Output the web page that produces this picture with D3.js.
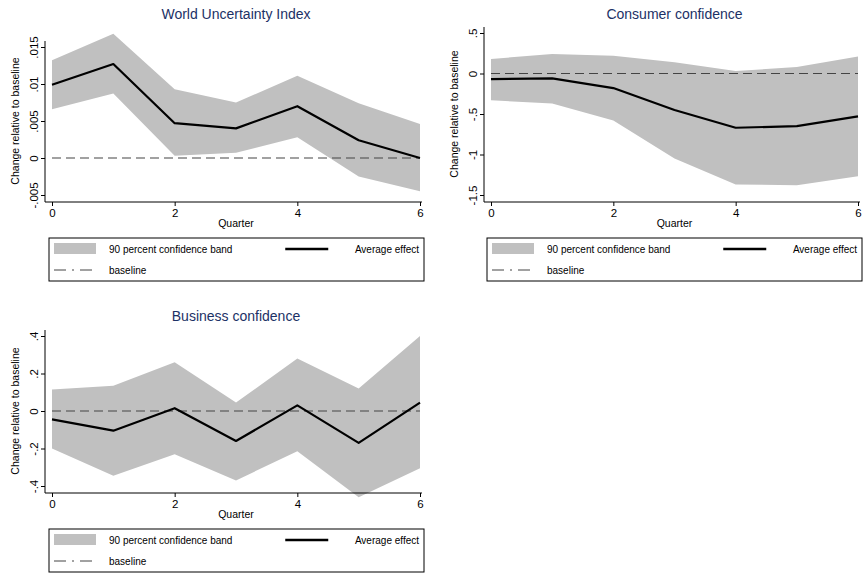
<!DOCTYPE html>
<html><head><meta charset="utf-8">
<script src="https://cdn.jsdelivr.net/npm/d3@7"></script>
<style>body{margin:0;background:#fff;font-family:"Liberation Sans",Arial,sans-serif}</style>
</head><body><svg></svg>
<script>
const quarters = [0, 1, 2, 3, 4, 5, 6];

const wuiMean  = [0.0099, 0.0127, 0.0047, 0.0040, 0.0070, 0.0024, 0.0000];
const wuiUpper = [0.0132, 0.0168, 0.0093, 0.0075, 0.0111, 0.0074, 0.0046];
const wuiLower = [0.0066, 0.0087, 0.0003, 0.0007, 0.0028, -0.0025, -0.0045];
const wuiTicks = [-0.005, 0, 0.005, 0.01, 0.015];
const wuiTickLabels = ['-.005', '0', '.005', '.01', '.015'];

const ccMean  = [-0.07, -0.06, -0.18, -0.45, -0.67, -0.65, -0.53];
const ccUpper = [0.18, 0.24, 0.22, 0.14, 0.03, 0.08, 0.21];
const ccLower = [-0.33, -0.37, -0.58, -1.05, -1.37, -1.38, -1.27];
const ccTicks = [-1.5, -1, -0.5, 0, 0.5];
const ccTickLabels = ['-1.5', '-1', '-.5', '0', '.5'];

const bcMean  = [-0.045, -0.105, 0.015, -0.16, 0.03, -0.17, 0.045];
const bcUpper = [0.115, 0.135, 0.26, 0.045, 0.28, 0.12, 0.40];
const bcLower = [-0.20, -0.345, -0.23, -0.37, -0.215, -0.46, -0.305];
const bcTicks = [-0.4, -0.2, 0, 0.2, 0.4];
const bcTickLabels = ['-.4', '-.2', '0', '.2', '.4'];

const svg = d3.select('svg').attr('width', 864).attr('height', 585);

// one Stata-style panel
function panel(o) {
  const g = svg.append('g');
  const x = d3.scaleLinear().domain([0, 6]).range([o.x0, o.x1]);
  const y = d3.scaleLinear().domain([o.ticks[0], o.ticks[o.ticks.length - 1]]).range([o.yb, o.yt]);

  g.append('text').attr('x', (o.x0 + o.x1) / 2).attr('y', o.title_y)
    .attr('text-anchor', 'middle').attr('font-size', 14).attr('fill', '#1c3166').text(o.title);

  g.append('path').datum(quarters)
    .attr('d', d3.area().x(d => x(d)).y0((d, i) => y(o.lower[i])).y1((d, i) => y(o.upper[i])))
    .attr('fill', '#c0c0c0');

  g.append('line').attr('x1', x(0)).attr('x2', x(6)).attr('y1', y(0)).attr('y2', y(0))
    .attr('stroke', '#444').attr('stroke-width', 1.1).attr('stroke-dasharray', '9,5');

  g.append('path').datum(quarters)
    .attr('d', d3.line().x(d => x(d)).y((d, i) => y(o.mean[i])))
    .attr('fill', 'none').attr('stroke', '#000').attr('stroke-width', 2.2).attr('stroke-linejoin', 'round');

  const yAxis = g.append('g').attr('transform', `translate(${o.x0 - 7},0)`)
    .call(d3.axisLeft(y).tickValues(o.ticks).tickFormat((d, i) => o.labels[i]).tickSize(4).tickSizeOuter(0));
  yAxis.select('.domain').attr('d', `M0,${o.yt - 6}V${o.yb + 7}`);
  yAxis.selectAll('text').attr('transform', 'rotate(-90)').attr('text-anchor', 'middle')
    .attr('x', 0).attr('y', -7).attr('dy', 0).attr('font-size', 11.5).attr('font-family', 'Liberation Sans');

  const xAxis = g.append('g').attr('transform', `translate(0,${o.yb + 7})`)
    .call(d3.axisBottom(x).tickValues([0, 2, 4, 6]).tickFormat(d3.format('d')).tickSize(4).tickSizeOuter(0));
  xAxis.select('.domain').attr('d', `M${o.x0 - 7},0H${o.x1 + 2}`);
  xAxis.selectAll('text').attr('font-size', 11.5).attr('font-family', 'Liberation Sans');

  g.append('text').attr('x', (o.x0 + o.x1) / 2).attr('y', o.yb + 32).attr('text-anchor', 'middle')
    .attr('font-size', 10.5).text('Quarter');
  g.append('text').attr('transform', `translate(${o.x0 - 33},${(o.yt + o.yb) / 2}) rotate(-90)`)
    .attr('text-anchor', 'middle').attr('font-size', 10.5).text('Change relative to baseline');

  // legend
  const lx = o.lx0, ly = o.yb + 43, lw = o.lx1 - o.lx0;
  const lg = g.append('g').attr('transform', `translate(${lx},${ly})`);
  lg.append('rect').attr('width', lw).attr('height', 43).attr('fill', '#fff').attr('stroke', '#000');
  lg.append('rect').attr('x', 5).attr('y', 5).attr('width', 42).attr('height', 11).attr('fill', '#c0c0c0');
  lg.append('text').attr('x', 60).attr('y', 14.5).attr('font-size', 10).text('90 percent confidence band');
  lg.append('line').attr('x1', lw * 0.63).attr('x2', lw * 0.63 + 43).attr('y1', 11).attr('y2', 11)
    .attr('stroke', '#000').attr('stroke-width', 2.5);
  lg.append('text').attr('x', lw - 5).attr('y', 14.5).attr('text-anchor', 'end').attr('font-size', 10).text('Average effect');
  lg.append('line').attr('x1', 5).attr('x2', 47).attr('y1', 32).attr('y2', 32)
    .attr('stroke', '#444').attr('stroke-dasharray', '12,6,2,6');
  lg.append('text').attr('x', 60).attr('y', 35.5).attr('font-size', 10).text('baseline');
}

panel({title: 'World Uncertainty Index', title_y: 19, x0: 52, x1: 420, yt: 47, yb: 195,
  ticks: wuiTicks, labels: wuiTickLabels, mean: wuiMean, upper: wuiUpper, lower: wuiLower, lx0: 49, lx1: 424});
panel({title: 'Consumer confidence', title_y: 19, x0: 491, x1: 858, yt: 33, yb: 195,
  ticks: ccTicks, labels: ccTickLabels, mean: ccMean, upper: ccUpper, lower: ccLower, lx0: 487, lx1: 862});
panel({title: 'Business confidence', title_y: 321, x0: 52, x1: 420, yt: 336, yb: 486,
  ticks: bcTicks, labels: bcTickLabels, mean: bcMean, upper: bcUpper, lower: bcLower, lx0: 49, lx1: 424});
</script></body></html>
